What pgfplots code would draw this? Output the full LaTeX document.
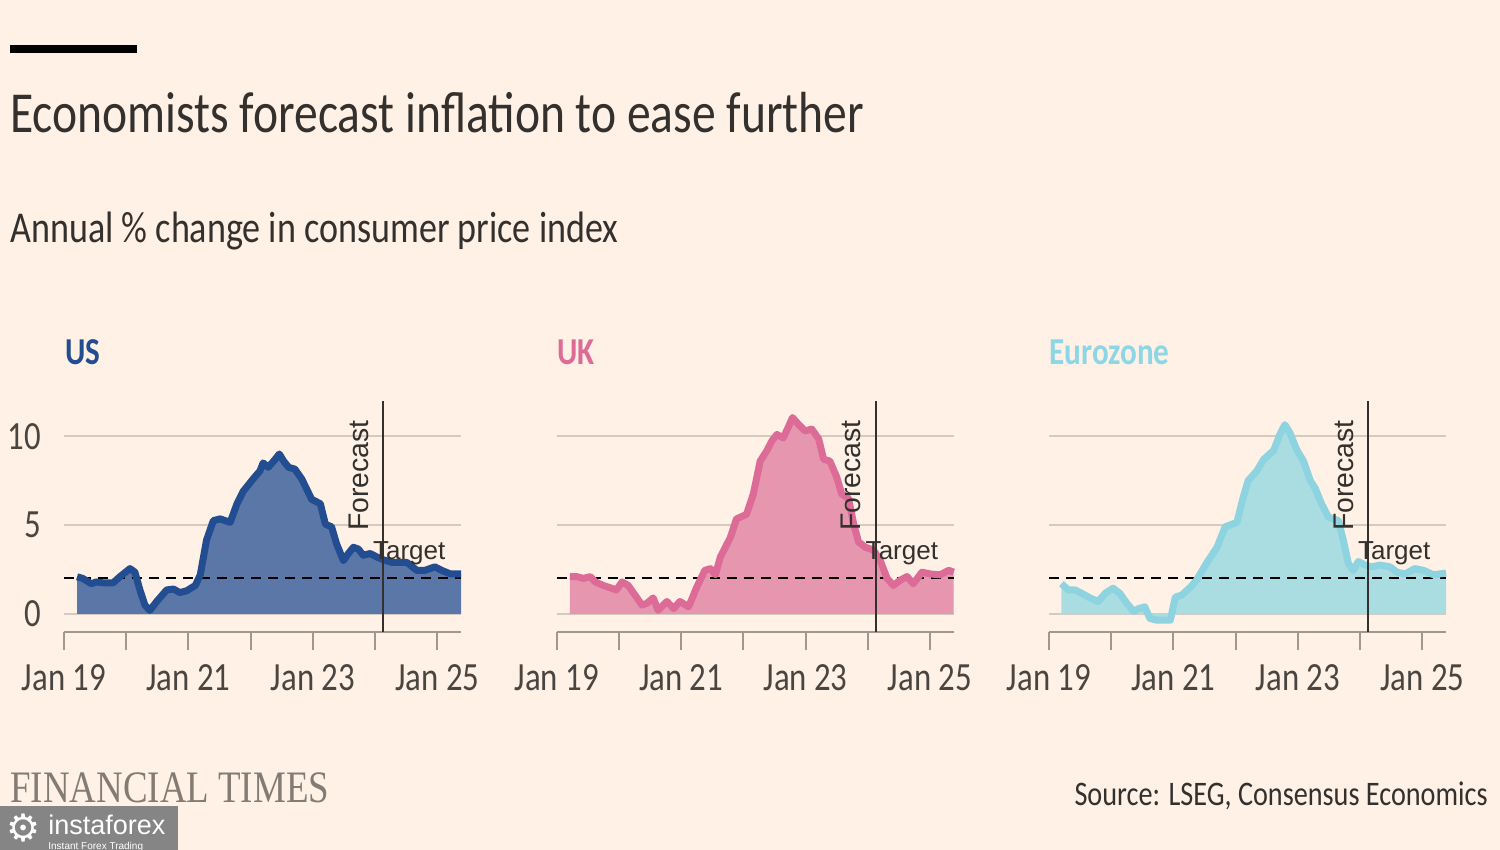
\documentclass[border=0pt]{standalone}
\usepackage{pgfplots}
\pgfplotsset{compat=1.18}
\usepackage{pgfplotstable}
\usepackage{fontspec}
\setmainfont{Carlito}[FakeStretch=0.82]
\newfontfamily\notefont{Liberation Sans}
\newfontfamily\ftlogo{Liberation Serif}[FakeStretch=0.82]
\newfontfamily\wmfont{DejaVu Sans}

\definecolor{ftbg}{HTML}{FFF1E5}
\definecolor{ftdark}{HTML}{33302E}
\definecolor{fttick}{HTML}{4A4541}
\definecolor{ftgrid}{HTML}{D4CBC0}
\definecolor{ftaxis}{HTML}{9E9891}
\definecolor{usline}{HTML}{234D91}
\definecolor{usfill}{HTML}{5A77A8}
\definecolor{ukline}{HTML}{DC6C97}
\definecolor{ukfill}{HTML}{E697AF}
\definecolor{ezline}{HTML}{8DD3E0}
\definecolor{ezfill}{HTML}{A9DDE2}
\definecolor{ezhead}{HTML}{8CD6E6}
\definecolor{ftlogocol}{HTML}{837C75}
\definecolor{wmgray}{HTML}{858585}

% US CPI, annual % change (actual + forecast)
\pgfplotstableread{
x y
2019.21 2.09
2019.30 2.00
2019.44 1.70
2019.52 1.80
2019.63 1.75
2019.79 1.75
2019.90 2.10
2020.06 2.55
2020.14 2.35
2020.22 1.35
2020.30 0.50
2020.38 0.20
2020.49 0.70
2020.65 1.35
2020.76 1.40
2020.86 1.20
2020.97 1.30
2021.11 1.60
2021.19 2.20
2021.29 4.15
2021.40 5.25
2021.51 5.35
2021.67 5.15
2021.78 6.20
2021.88 6.90
2022.04 7.60
2022.15 8.05
2022.20 8.50
2022.28 8.25
2022.37 8.60
2022.46 9.00
2022.53 8.60
2022.61 8.25
2022.71 8.15
2022.82 7.60
2022.98 6.45
2023.12 6.20
2023.20 5.05
2023.30 4.90
2023.38 3.95
2023.49 3.00
2023.57 3.40
2023.65 3.75
2023.73 3.65
2023.81 3.30
2023.92 3.40
2024.03 3.20
2024.13 3.05
2024.27 2.90
2024.51 2.90
2024.67 2.45
2024.80 2.45
2024.96 2.65
2025.07 2.45
2025.21 2.25
2025.38 2.25
}\usdata

% UK CPI
\pgfplotstableread{
x y
2019.21 2.10
2019.32 2.10
2019.43 2.00
2019.54 2.10
2019.62 1.80
2019.75 1.60
2019.96 1.35
2020.05 1.80
2020.15 1.60
2020.26 1.05
2020.37 0.50
2020.45 0.60
2020.55 0.90
2020.63 0.20
2020.77 0.70
2020.88 0.30
2020.98 0.70
2021.12 0.40
2021.25 1.50
2021.38 2.45
2021.47 2.55
2021.55 2.20
2021.63 3.20
2021.79 4.30
2021.89 5.35
2022.05 5.60
2022.16 6.75
2022.27 8.60
2022.38 9.20
2022.46 9.75
2022.54 10.10
2022.64 9.90
2022.72 10.50
2022.79 11.05
2022.89 10.65
2022.99 10.30
2023.10 10.40
2023.21 9.85
2023.29 8.70
2023.39 8.60
2023.50 7.70
2023.58 6.75
2023.69 6.50
2023.77 5.10
2023.85 4.05
2023.96 3.75
2024.09 3.60
2024.20 3.00
2024.31 2.00
2024.41 1.60
2024.52 1.90
2024.63 2.10
2024.73 1.70
2024.87 2.35
2025.00 2.25
2025.16 2.20
2025.30 2.45
2025.38 2.35
}\ukdata

% Eurozone HICP
\pgfplotstableread{
x y
2019.20 1.70
2019.31 1.35
2019.42 1.35
2019.53 1.15
2019.66 0.90
2019.79 0.70
2019.90 1.15
2020.03 1.45
2020.14 1.15
2020.25 0.60
2020.36 0.15
2020.44 0.30
2020.54 0.40
2020.62 -0.25
2020.73 -0.35
2020.95 -0.35
2021.03 0.95
2021.13 1.05
2021.27 1.50
2021.37 1.90
2021.53 2.85
2021.70 3.75
2021.83 4.90
2022.02 5.15
2022.12 6.55
2022.20 7.50
2022.34 8.05
2022.45 8.70
2022.61 9.20
2022.71 10.10
2022.79 10.65
2022.87 10.20
2022.98 9.25
2023.09 8.60
2023.20 7.50
2023.28 7.05
2023.38 6.20
2023.49 5.45
2023.65 5.25
2023.73 4.15
2023.81 2.85
2023.89 2.45
2023.97 2.95
2024.08 2.75
2024.19 2.65
2024.32 2.75
2024.48 2.65
2024.59 2.35
2024.72 2.25
2024.88 2.55
2025.02 2.45
2025.18 2.20
2025.38 2.30
}\ezdata

\pgfplotsset{
  ftpanel/.style={
    scale only axis, width=198.5pt, height=115.5pt,
    anchor=south west,
    xmin=2019, xmax=2025.38, ymin=-1, ymax=12,
    axis x line*=bottom, axis y line*=left,
    y axis line style={draw=none},
    x axis line style={ftaxis, line width=1pt},
    xtick={2019,...,2025},
    xticklabels={Jan 19,,Jan 21,,Jan 23,,Jan 25},
    ytick={0,5,10},
    ymajorgrids, grid style={ftgrid, line width=1pt},
    major x tick style={ftaxis, line width=1pt},
    major y tick style={draw=none},
    tick align=outside, major tick length=9pt,
    ticklabel style={font=\fontsize{20}{20}\selectfont, text=fttick},
    xticklabel style={yshift=-4pt},
    clip=false,
  },
}
\tikzset{
  fcast/.style={ftdark, line width=1pt},
  targetline/.style={black, line width=1pt, dash pattern=on 5pt off 3.5pt},
}

\newcommand{\panelextras}{%
  \draw[targetline] (axis cs:2019,2) -- (axis cs:2025.38,2);
}
\newcommand{\panelnotes}{%
  \draw[fcast] (axis cs:2024.13,-1) -- (axis cs:2024.13,12);
  \node[rotate=90, anchor=base west, inner sep=0, text=ftdark,
    font=\notefont\fontsize{14.2}{14.2}\selectfont]
    at ([xshift=-7.5pt]axis cs:2024.13,4.65) {Forecast};
  \node[anchor=base west, inner sep=0, text=ftdark,
    font=\notefont\fontsize{13}{13}\selectfont]
    at (axis cs:2023.96,3.05) {Target};
}

\begin{document}
\begin{tikzpicture}
\fill[ftbg] (0,0) rectangle (750pt,425pt);

% header
\fill[black] (5pt,398.5pt) rectangle (68.5pt,402.5pt);
\node[anchor=base west, inner sep=0, text=ftdark, font=\fontsize{29}{29}\selectfont]
  at (5pt,358.5pt) {Economists forecast inflation to ease further};
\node[anchor=base west, inner sep=0, text=ftdark, font=\fontsize{22}{22}\selectfont]
  at (5pt,303.5pt) {Annual \% change in consumer price index};

% panel titles
\node[anchor=base west, inner sep=0, text=usline, font=\bfseries\fontsize{19}{19}\selectfont]
  at (32.5pt,242.5pt) {US};
\node[anchor=base west, inner sep=0, text=ukline, font=\bfseries\fontsize{19}{19}\selectfont]
  at (278.5pt,242.5pt) {UK};
\node[anchor=base west, inner sep=0, text=ezhead, font=\bfseries\fontsize{19}{19}\selectfont]
  at (524.5pt,242.5pt) {Eurozone};

% US
\begin{axis}[ftpanel, at={(32pt,109.15pt)},
  yticklabels={0,5,10},
  yticklabel style={anchor=east, xshift=1pt}]
  \addplot[draw=none, fill=usfill] table {\usdata} \closedcycle;
  \panelextras
  \addplot[usline, line width=3.5pt, line join=round] table {\usdata};
  \panelnotes
\end{axis}

% UK
\begin{axis}[ftpanel, at={(278.35pt,109.15pt)}, yticklabels={,,}]
  \addplot[draw=none, fill=ukfill] table {\ukdata} \closedcycle;
  \panelextras
  \addplot[ukline, line width=3.5pt, line join=round] table {\ukdata};
  \panelnotes
\end{axis}

% Eurozone
\begin{axis}[ftpanel, at={(524.5pt,109.15pt)}, yticklabels={,,}]
  \addplot[draw=none, fill=ezfill] table {\ezdata} \closedcycle;
  \panelextras
  \addplot[ezline, line width=3.5pt, line join=round] table {\ezdata};
  \panelnotes
\end{axis}

% footer
\node[anchor=base west, inner sep=0, text=ftlogocol, font=\ftlogo\fontsize{22.5}{22.5}\selectfont]
  at (5pt,23.5pt) {FINANCIAL TIMES};
\node[anchor=base east, inner sep=0, text=ftdark, font=\fontsize{17.2}{17.2}\selectfont]
  at (744pt,22pt) {Source: LSEG, Consensus Economics};

% watermark
\fill[wmgray] (0,0) rectangle (89pt,22pt);
\node[anchor=center, inner sep=0, text=white, font=\wmfont\fontsize{19}{19}\selectfont]
  at (12pt,11pt) {⚙};
\node[anchor=base west, inner sep=0, text=white, font=\notefont\fontsize{13.5}{13.5}\selectfont]
  at (24pt,7.8pt) {instaforex};
\node[anchor=base west, inner sep=0, text=white, font=\notefont\fontsize{5}{5}\selectfont]
  at (24pt,0.4pt) {Instant Forex Trading};

\pgfresetboundingbox
\path[use as bounding box] (0,0) rectangle (750pt,425pt);
\end{tikzpicture}
\end{document}
